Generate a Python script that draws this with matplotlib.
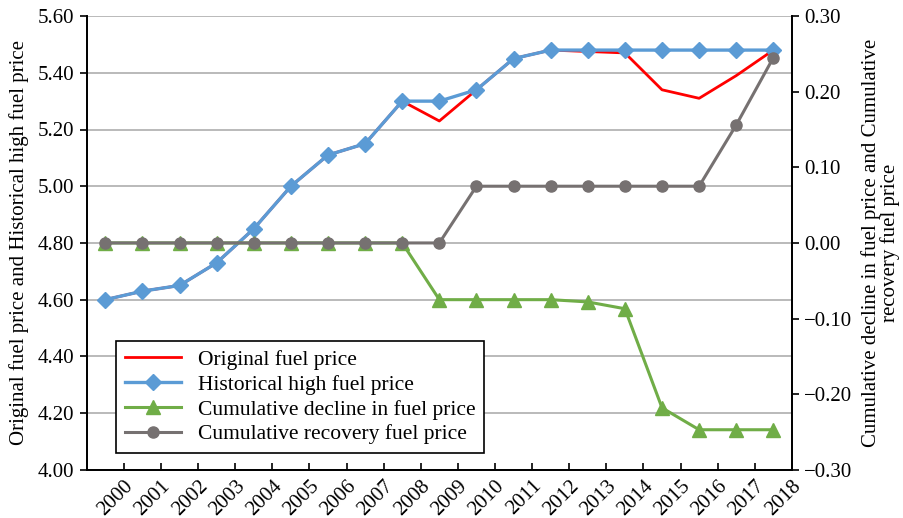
import numpy as np
import matplotlib
matplotlib.use("Agg")
import matplotlib.pyplot as plt

plt.rcParams["font.family"] = ["Liberation Serif", "DejaVu Serif"]
plt.rcParams["font.size"] = 15

# Data
years = [str(y) for y in range(2000, 2019)]
original = [4.60, 4.63, 4.65, 4.73, 4.85, 5.00, 5.11, 5.15, 5.30, 5.23,
            5.34, 5.45, 5.48, 5.475, 5.47, 5.34, 5.31, 5.39, 5.48]
hist_high = [4.60, 4.63, 4.65, 4.73, 4.85, 5.00, 5.11, 5.15, 5.30, 5.30,
             5.34, 5.45, 5.48, 5.48, 5.48, 5.48, 5.48, 5.48, 5.48]
decline = [0, 0, 0, 0, 0, 0, 0, 0, 0, -0.075,
           -0.075, -0.075, -0.075, -0.078, -0.087, -0.218, -0.247, -0.247, -0.247]
recovery = [0, 0, 0, 0, 0, 0, 0, 0, 0, 0,
            0.075, 0.075, 0.075, 0.075, 0.075, 0.075, 0.075, 0.156, 0.245]

x = np.arange(len(years))

fig, ax = plt.subplots(figsize=(9.04, 5.18), dpi=100)
fig.subplots_adjust(left=0.096, right=0.876, top=0.969, bottom=0.093)
ax2 = ax.twinx()

l1, = ax.plot(x, original, color="#FF0000", lw=2, zorder=3)
l2, = ax.plot(x, hist_high, color="#5B9BD5", lw=2.4, marker="D", ms=8, zorder=4)
l3, = ax2.plot(x, decline, color="#70AD47", lw=2.2, marker="^", ms=10)
l4, = ax2.plot(x, recovery, color="#767171", lw=2.2, marker="o", ms=8)

ax.set_xlim(-0.5, len(years) - 0.5)
ax.set_ylim(4.0, 5.6)
ax.set_yticks(np.arange(4.0, 5.61, 0.2))
ax.set_yticklabels([f"{v:.2f}" for v in np.arange(4.0, 5.61, 0.2)])
ax2.set_ylim(-0.3, 0.3)
ax2.set_yticks(np.arange(-0.3, 0.31, 0.1))
ax2.set_yticklabels([f"{v:.2f}".replace("-", "\u2212") for v in np.arange(-0.3, 0.31, 0.1)])

ax.set_xticks(x + 0.5)
ax.set_xticklabels(years, rotation=45, ha="right", rotation_mode="anchor")
ax.tick_params(axis="x", direction="in", length=5, width=1.2, pad=5)
ax.tick_params(axis="y", direction="out", length=5, width=1.2, pad=4)
ax2.tick_params(axis="y", direction="out", length=5, width=1.2, pad=4)

ax.grid(axis="y", color="#b4b4b4", lw=1.3)
ax.set_axisbelow(True)
for a in (ax, ax2):
    a.spines["top"].set_visible(False)
    for s in ("left", "right", "bottom"):
        a.spines[s].set_linewidth(1.3)

ax.set_ylabel("Original fuel price and Historical high fuel price", labelpad=6)
ax2.set_ylabel("Cumulative decline in fuel price and Cumulative\nrecovery fuel price",
               labelpad=6, linespacing=0.95)

leg = ax.legend([l1, l2, l3, l4],
                ["Original fuel price", "Historical high fuel price",
                 "Cumulative decline in fuel price", "Cumulative recovery fuel price"],
                loc="lower left", bbox_to_anchor=(0.042, 0.037), borderaxespad=0,
                fancybox=False, edgecolor="black", framealpha=1, handlelength=2.6,
                labelspacing=0.22, borderpad=0.4, fontsize=15.5)
leg.get_frame().set_linewidth(1.2)
leg.set_zorder(10)

fig.savefig("out.png", dpi=100)
